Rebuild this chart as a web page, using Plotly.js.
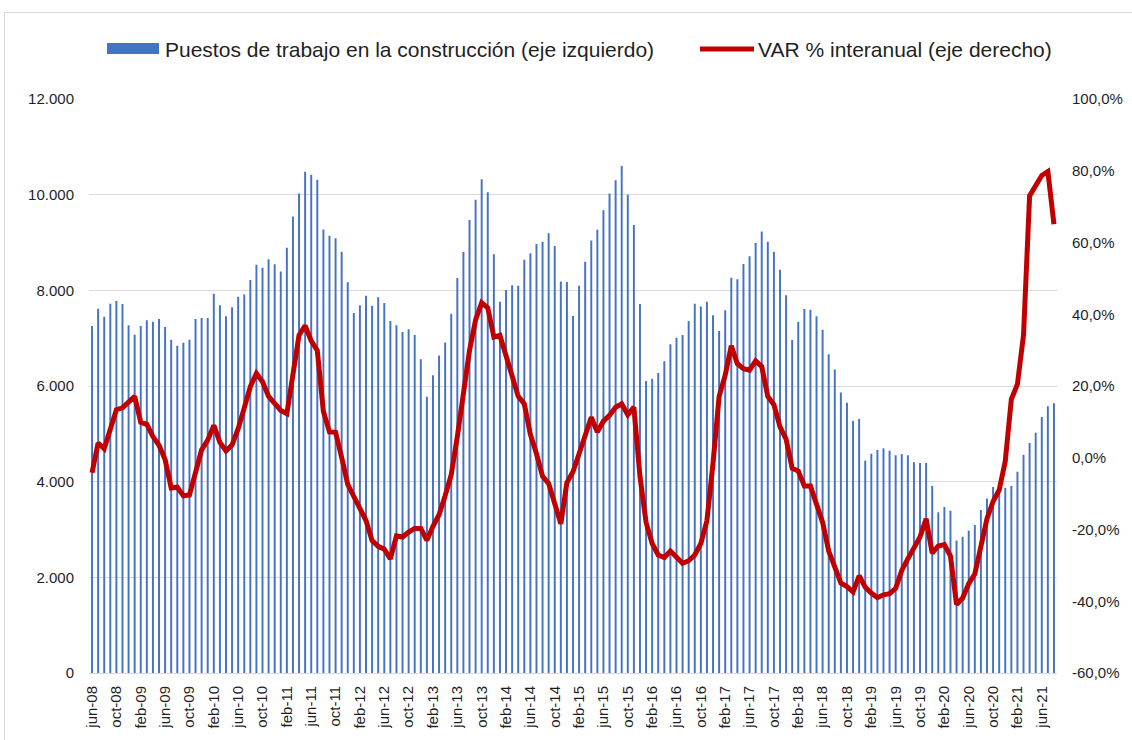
<!DOCTYPE html>
<html>
<head>
<meta charset="utf-8">
<script src="https://cdn.plot.ly/plotly-3.0.1.min.js"></script>
<style>
  html, body { margin: 0; padding: 0; background: #ffffff; }
  #wrap { position: relative; width: 1132px; height: 740px; overflow: hidden; }
  #chart { position: absolute; left: 0; top: 0; width: 1132px; height: 740px; }
  #frame { position: absolute; left: 4px; top: 12px; width: 1140px; height: 740px; border: 1px solid #d9d9d9; pointer-events: none; }
</style>
</head>
<body>
<div id="wrap">
  <div id="chart"></div>
  <div id="frame"></div>
</div>
<script>
// Month names (Spanish abbreviations) and first month of the series
const monthNames = ['ene','feb','mar','abr','may','jun','jul','ago','sep','oct','nov','dic'];
const startMonth = 5;   // jun
const startYear = 2008;

// Puestos de trabajo en la construcción (eje izquierdo), jun-08 .. ago-21
const puestos = [
  7256, 7616, 7448, 7720, 7776, 7712, 7272, 7072, 7256, 7376, 7344, 7400, 7232, 6968, 6840, 6904, 6968, 7400, 7424, 7424,
  7928, 7688, 7456, 7648, 7864, 7912, 8216, 8536, 8472, 8648, 8544, 8392, 8888, 9544, 10024, 10480, 10416, 10312, 9272, 9140,
  9088, 8808, 8168, 7528, 7688, 7888, 7680, 7856, 7736, 7360, 7272, 7128, 7184, 7064, 6560, 5776, 6224, 6640, 6912, 7512,
  8256, 8800, 9472, 9896, 10320, 10048, 8752, 7760, 8008, 8104, 8096, 8640, 8776, 8968, 9016, 9192, 8928, 8184, 8176, 7464,
  8096, 8600, 9040, 9264, 9672, 10024, 10304, 10600, 10000, 9368, 7712, 6104, 6152, 6272, 6520, 6872, 7008, 7064, 7360, 7720,
  7664, 7760, 7480, 7152, 7584, 8264, 8232, 8552, 8712, 8992, 9232, 9016, 8808, 8432, 7896, 6960, 7344, 7608, 7592, 7456,
  7176, 6664, 6344, 5864, 5648, 5272, 5312, 4440, 4584, 4664, 4696, 4648, 4552, 4576, 4552, 4408, 4392, 4392, 3912, 3360,
  3472, 3392, 2768, 2848, 2976, 3096, 3408, 3648, 3888, 3912, 3872, 3912, 4208, 4560, 4808, 5024, 5352, 5576, 5640
];

// VAR % interanual (eje derecho)
const varInteranual = [
  -4.2, 4.1, 2.5, 8.6, 13.4, 13.9, 15.5, 17.1, 9.9, 9.3, 5.9, 3.5, -0.5, -8.4, -8.2, -10.6, -10.4, -3.7, 2.2, 4.9,
  9.0, 4.3, 1.9, 3.6, 8.1, 13.9, 19.8, 23.5, 21.2, 17.1, 15.2, 13.2, 12.3, 24.0, 34.2, 36.8, 32.6, 29.9, 12.9, 7.2,
  7.1, 0.1, -7.4, -10.8, -13.8, -17.5, -23.1, -24.7, -25.5, -28.2, -21.8, -22.1, -20.7, -19.7, -19.7, -23.0, -19.1, -15.9, -10.6, -4.7,
  5.9, 19.2, 29.9, 38.4, 43.2, 41.8, 33.6, 34.1, 28.8, 22.4, 17.1, 15.0, 6.5, 1.1, -5.2, -7.2, -12.7, -18.4, -6.9, -3.9,
  1.1, 5.9, 11.3, 7.2, 10.2, 11.8, 14.1, 15.0, 12.0, 14.1, -5.2, -18.0, -23.9, -27.1, -27.8, -26.0, -27.6, -29.4, -28.7, -27.1,
  -23.9, -17.5, -1.5, 17.1, 23.0, 31.2, 26.2, 24.8, 24.4, 27.0, 25.4, 17.1, 14.8, 8.6, 5.2, -2.9, -3.7, -7.9, -7.9, -13.5,
  -18.0, -26.0, -30.8, -34.9, -35.9, -37.4, -32.9, -36.1, -37.7, -39.0, -38.2, -37.9, -36.4, -31.4, -28.2, -25.0, -22.1, -17.0, -26.6, -24.6,
  -24.2, -27.4, -40.9, -39.1, -35.1, -32.4, -25.0, -17.0, -12.2, -9.0, -1.0, 16.3, 20.5, 34.2, 73.0, 75.7, 78.7, 79.8, 65.1
];

// Right axis tick values and labels
const y2Ticks = [-60, -40, -20, 0, 20, 40, 60, 80, 100];
const y2TickText = ['-60,0%', '-40,0%', '-20,0%', '0,0%', '20,0%', '40,0%', '60,0%', '80,0%', '100,0%'];

// Category labels (one per month)
const categorias = puestos.map((_, i) => {
  const m = (startMonth + i) % 12;
  const y = startYear + Math.floor((startMonth + i) / 12);
  return monthNames[m] + '-' + String(y % 100).padStart(2, '0');
});
// Tick labels every 4 months
const tickLabels = categorias.filter((_, i) => i % 4 === 0);

const legendNames = ['Puestos de trabajo en la construcción (eje izquierdo)', 'VAR % interanual (eje derecho)'];

const W = 1132, H = 740;
const M = { l: 89, r: 75, t: 99, b: 67 };
const pw = W - M.l - M.r, ph = H - M.t - M.b;
const px = x => (x - M.l) / pw;
const py = y => (H - M.b - y) / ph;

const FONT = '"Liberation Sans", Arial, Helvetica, sans-serif';
const TXT = '#1f1f1f';

const traces = [
  {
    type: 'bar', name: legendNames[0], x: categorias, y: puestos,
    marker: { color: '#4472C4', line: { width: 0 } },
    yaxis: 'y', hoverinfo: 'x+y'
  },
  {
    type: 'scatter', mode: 'lines', name: legendNames[1], x: categorias, y: varInteranual,
    line: { color: '#C00000', width: 5 },
    yaxis: 'y2', hoverinfo: 'x+y'
  }
];

const layout = {
  width: W, height: H,
  margin: M,
  paper_bgcolor: '#ffffff', plot_bgcolor: '#ffffff',
  separators: ',.',
  showlegend: false,
  bargap: 0.68,
  font: { family: FONT, size: 15, color: TXT },
  xaxis: {
    type: 'category',
    tickmode: 'array', tickvals: tickLabels, ticktext: tickLabels,
    tickangle: -90, ticks: '', showgrid: false,
    showline: true, linecolor: '#d9d9d9', linewidth: 1,
    tickfont: { family: FONT, size: 15, color: TXT },
    ticklabelstandoff: 6
  },
  yaxis: {
    range: [0, 12000], dtick: 2000, tickformat: ',d',
    showgrid: true, gridcolor: '#d9d9d9', gridwidth: 1,
    zeroline: false, ticks: '', showline: false,
    tickfont: { family: FONT, size: 15, color: TXT },
    ticklabelstandoff: 14
  },
  yaxis2: {
    overlaying: 'y', side: 'right',
    range: [-60, 100], tickmode: 'array', tickvals: y2Ticks, ticktext: y2TickText,
    showgrid: false, zeroline: false, ticks: '', showline: false,
    tickfont: { family: FONT, size: 15, color: TXT },
    ticklabelstandoff: 14
  },
  shapes: [
    { type: 'rect', xref: 'paper', yref: 'paper', x0: px(107), x1: px(159), y0: py(54), y1: py(43),
      fillcolor: '#4472C4', line: { width: 0 } },
    { type: 'line', xref: 'paper', yref: 'paper', x0: px(700), x1: px(754), y0: py(49), y1: py(49),
      line: { color: '#C00000', width: 5 } }
  ],
  annotations: [
    { xref: 'paper', yref: 'paper', x: px(163), y: py(49), xanchor: 'left', yanchor: 'middle',
      text: legendNames[0], showarrow: false, font: { family: FONT, size: 21, color: TXT } },
    { xref: 'paper', yref: 'paper', x: px(756), y: py(49), xanchor: 'left', yanchor: 'middle',
      text: legendNames[1], showarrow: false, font: { family: FONT, size: 21, color: TXT } }
  ]
};

Plotly.newPlot('chart', traces, layout, { displayModeBar: false, staticPlot: true });
</script>
</body>
</html>
